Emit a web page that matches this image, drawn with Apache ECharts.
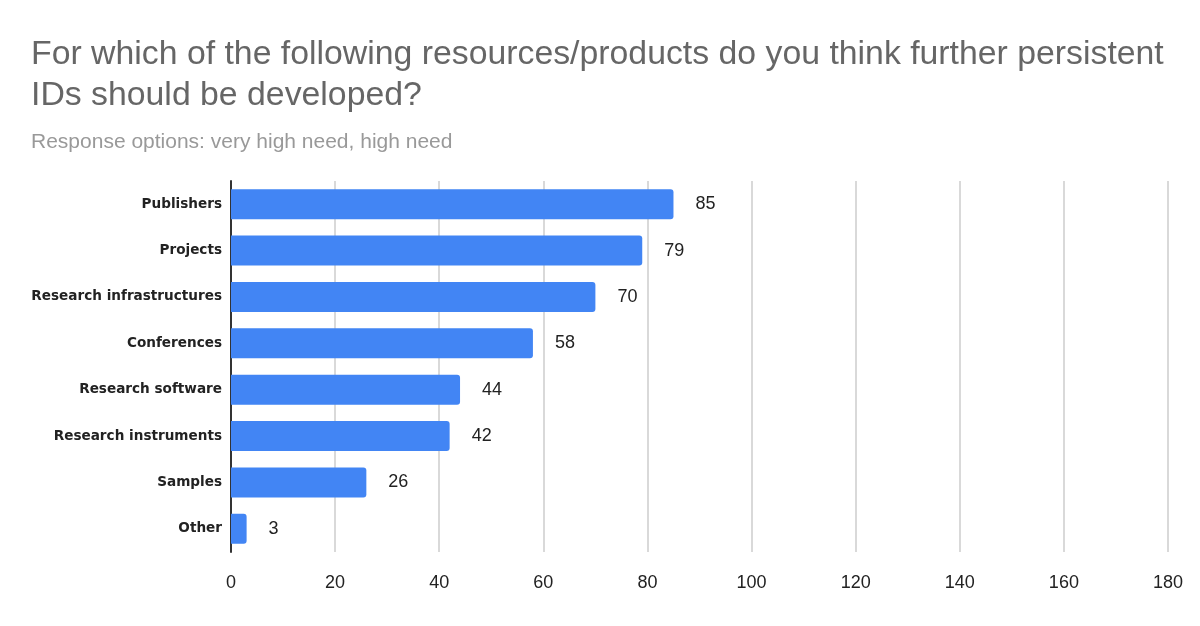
<!DOCTYPE html>
<html>
<head>
<meta charset="utf-8">
<script src="https://cdn.jsdelivr.net/npm/echarts@6/dist/echarts.min.js"></script>
<style>
  html, body { margin: 0; padding: 0; background: #fff; }
  #chart { width: 1200px; height: 626px; }
</style>
</head>
<body>
<div id="chart"></div>
<script>
// categories top to bottom
var categories = ['Publishers', 'Projects', 'Research infrastructures', 'Conferences',
                  'Research software', 'Research instruments', 'Samples', 'Other'];
var counts = [85, 79, 70, 58, 44, 42, 26, 3];
var xTicks = [0, 20, 40, 60, 80, 100, 120, 140, 160, 180];

var chart = echarts.init(document.getElementById('chart'));
var option = {
    backgroundColor: '#fff',
    title: {
        text: 'For which of the following resources/products do you think further persistent\nIDs should be developed?',
        subtext: 'Response options: very high need, high need',
        left: 26,
        top: 29,
        itemGap: 16,
        textStyle: {
            fontFamily: 'Liberation Sans',
            fontSize: 33.8,
            fontWeight: 'normal',
            color: '#666',
            lineHeight: 41
        },
        subtextStyle: {
            fontFamily: 'Liberation Sans',
            fontSize: 21,
            color: '#999'
        }
    },
    grid: {
        left: 231,
        right: 32,
        top: 181,
        bottom: 74,
        containLabel: false
    },
    xAxis: {
        type: 'value',
        min: 0,
        max: 180,
        interval: 20,
        axisLine: { show: false },
        axisTick: { show: false },
        splitLine: { lineStyle: { color: '#ccc', width: 1.5 } },
        axisLabel: {
            fontFamily: 'Liberation Sans',
            fontSize: 18,
            color: '#222',
            margin: 22,
            formatter: function (v) { return xTicks.indexOf(v) >= 0 ? v : ''; }
        }
    },
    yAxis: {
        type: 'category',
        inverse: true,
        data: categories,
        axisLine: { show: true, lineStyle: { color: '#333', width: 2 } },
        axisTick: { show: false },
        axisLabel: {
            fontFamily: 'DejaVu Sans',
            fontSize: 13.6,
            fontWeight: 'bold',
            color: '#222',
            margin: 9
        }
    },
    series: [
        {
            type: 'bar',
            data: counts,
            barWidth: 30,
            itemStyle: {
                color: '#4285f4',
                borderRadius: [0, 3, 3, 0]
            },
            label: {
                show: true,
                position: 'right',
                distance: 22,
                fontFamily: 'Liberation Sans',
                fontSize: 18,
                color: '#222'
            },
            animation: false
        }
    ]
};
chart.setOption(option);
</script>
</body>
</html>
